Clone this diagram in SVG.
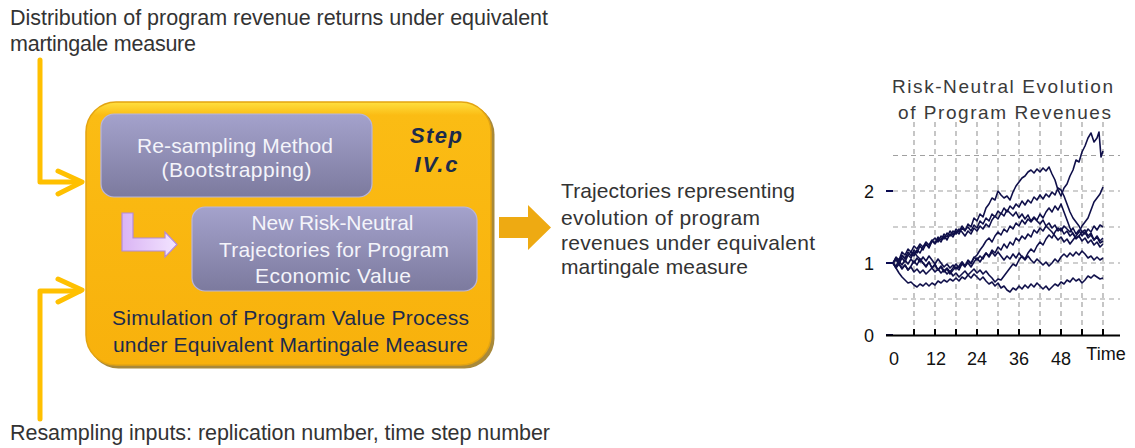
<svg xmlns="http://www.w3.org/2000/svg" width="1135" height="448" viewBox="0 0 1135 448">
  <defs>
    <linearGradient id="orangeGrad" x1="0" y1="0" x2="0" y2="1">
      <stop offset="0" stop-color="#FFE040"/>
      <stop offset="0.05" stop-color="#FBBC14"/>
      <stop offset="1" stop-color="#F8B10C"/>
    </linearGradient>
    <linearGradient id="innerGrad" x1="0" y1="0" x2="0" y2="1">
      <stop offset="0" stop-color="#A4A2CC"/>
      <stop offset="1" stop-color="#7C7A9E"/>
    </linearGradient>
    <linearGradient id="purpleGrad" x1="0" y1="0" x2="1" y2="0">
      <stop offset="0" stop-color="#DAB4F4"/>
      <stop offset="1" stop-color="#F2E4FF"/>
    </linearGradient>
    <linearGradient id="axisGrad" x1="0" y1="0" x2="0" y2="1">
      <stop offset="0" stop-color="#8A8AB8"/>
      <stop offset="0.1" stop-color="#0A0A50"/>
      <stop offset="1" stop-color="#0A0A50"/>
    </linearGradient>
  </defs>
  <style>
    .t { font-family: "Liberation Sans", Arial, sans-serif; font-size: 21.5px; fill: #333333; }
    .o { font-family: "Liberation Sans", Arial, sans-serif; font-size: 21px; fill: #333333; }
    .bw { font-family: "Liberation Sans", Arial, sans-serif; font-size: 21px; fill: #F4F4FA; text-anchor: middle; }
    .bn { font-family: "Liberation Sans", Arial, sans-serif; font-size: 21px; fill: #1C2B4C; text-anchor: middle; }
    .step { font-family: "Liberation Sans", Arial, sans-serif; font-size: 22px; font-weight: bold; font-style: italic; fill: #1C2B4C; text-anchor: middle; }
    .ct { font-family: "Liberation Sans", Arial, sans-serif; font-size: 19px; fill: #3A3A3A; }
    .cl { font-family: "Liberation Sans", Arial, sans-serif; font-size: 18px; fill: #111111; text-anchor: middle; }
    .yel { fill: none; stroke: #FFC000; stroke-width: 5; stroke-linecap: round; stroke-linejoin: round; }
    .inner { fill: url(#innerGrad); stroke: #B8B5DC; stroke-width: 1.2; }
    .grid { stroke: #A0A0A0; stroke-width: 1.2; stroke-dasharray: 5 4; fill: none; }
    .traj { fill: none; stroke: #10104A; stroke-width: 1.6; stroke-linejoin: round; }
  </style>

  <g id="input-distribution">
    <text class="t" x="10" y="25" textLength="538" lengthAdjust="spacing">Distribution of program revenue returns under equivalent</text>
    <text class="t" x="10" y="51" textLength="186" lengthAdjust="spacing">martingale measure</text>
  </g>

  <g id="input-resampling">
    <text class="t" x="10" y="440" textLength="540" lengthAdjust="spacing">Resampling inputs: replication number, time step number</text>
  </g>

  <g id="simulation-box">
    <rect x="88.5" y="104.5" width="406" height="264" rx="30" fill="#A8893A"/>
    <rect x="86" y="102" width="405" height="263" rx="30" fill="url(#orangeGrad)" stroke="#E3A412" stroke-width="1.5"/>
    <text class="step" x="436" y="143" textLength="52" lengthAdjust="spacing">Step</text>
    <text class="step" x="436" y="172" textLength="43" lengthAdjust="spacing">IV.c</text>
    <text class="bn" x="290.5" y="325" textLength="357" lengthAdjust="spacing">Simulation of Program Value Process</text>
    <text class="bn" x="290.5" y="352" textLength="355" lengthAdjust="spacing">under Equivalent Martingale Measure</text>
  </g>

  <g id="resampling-method">
    <rect class="inner" x="101" y="114" width="271" height="83" rx="13"/>
    <text class="bw" x="235" y="153" textLength="196" lengthAdjust="spacing">Re-sampling Method</text>
    <text class="bw" x="236.5" y="177" textLength="150" lengthAdjust="spacing">(Bootstrapping)</text>
  </g>

  <g id="new-trajectories">
    <rect class="inner" x="192" y="207" width="285" height="84" rx="13"/>
    <text class="bw" x="332.5" y="230" textLength="162" lengthAdjust="spacing">New Risk-Neutral</text>
    <text class="bw" x="334" y="257" textLength="230" lengthAdjust="spacing">Trajectories for Program</text>
    <text class="bw" x="333" y="283" textLength="156" lengthAdjust="spacing">Economic Value</text>
  </g>

  <g id="output-text">
    <text class="o" x="561" y="198" textLength="234" lengthAdjust="spacing">Trajectories representing</text>
    <text class="o" x="561" y="225" textLength="199" lengthAdjust="spacing">evolution of program</text>
    <text class="o" x="561" y="250" textLength="254" lengthAdjust="spacing">revenues under  equivalent</text>
    <text class="o" x="561" y="274" textLength="187" lengthAdjust="spacing">martingale measure</text>
  </g>

  <g id="chart">
    <text class="ct" x="892" y="93" textLength="221" lengthAdjust="spacing">Risk-Neutral Evolution</text>
    <text class="ct" x="898" y="119" textLength="213" lengthAdjust="spacing">of Program Revenues</text>
    <g class="grid">
      <path d="M893,155.5 H1120 M893,191 H1120 M893,227 H1120 M893,263 H1120 M893,299 H1120"/>
      <path d="M914,122 V335 M935,122 V335 M956,122 V335 M977,122 V335 M998,122 V335 M1019,122 V335 M1040,122 V335 M1061,122 V335 M1082,122 V335 M1103,122 V335"/>
    </g>
    <g class="traj">
      <polyline points="893,263 896,258 899,261 902,255 905,258 908,252 911,256 914,250 917,253 920,246 923,250 926,244 929,247 932,241 935,244 938,239 941,242 944,236 947,240 950,234 953,237 956,231 959,234 962,228 965,231 968,224 971,227 974,218 977,221 980,214 983,217 986,208 989,204 992,198 995,200 998,191 1001,195 1004,198 1007,196 1010,200 1013,192 1016,186 1019,182 1022,178 1025,176 1028,172 1031,170 1034,173 1037,169 1040,172 1043,168 1046,171 1049,167 1052,174 1055,180 1058,190 1061,196 1064,188 1067,184 1070,176 1073,170 1076,160 1079,162 1082,152 1085,146 1088,138 1091,133 1094,142 1097,138 1099,132 1101,157 1103,151"/>
      <polyline points="893,263 896,257 899,260 902,252 905,255 908,249 911,252 914,246 917,249 920,244 923,247 926,242 929,245 932,240 935,243 938,237 941,240 944,234 947,237 950,231 953,235 956,229 959,232 962,226 965,230 968,227 971,231 974,225 977,228 980,221 983,224 986,218 989,221 992,214 995,217 998,211 1001,214 1004,208 1007,212 1010,206 1013,209 1016,204 1019,207 1022,201 1025,205 1028,200 1031,203 1034,197 1037,200 1040,195 1043,199 1046,194 1049,197 1052,192 1055,195 1058,188 1061,190 1064,196 1067,204 1070,212 1073,218 1076,222 1079,226 1082,232 1085,230 1088,236 1091,233 1094,240 1097,237 1100,243 1103,241"/>
      <polyline points="893,263 896,268 899,264 902,269 905,265 908,270 911,266 914,261 917,265 920,259 923,263 926,267 929,262 932,268 935,264 938,270 941,266 944,271 947,268 950,272 953,268 956,264 959,268 962,262 965,266 968,260 971,263 974,257 977,260 980,256 983,259 986,253 989,256 992,250 995,253 998,247 1001,250 1004,244 1007,248 1010,242 1013,245 1016,238 1019,241 1022,236 1025,239 1028,234 1031,237 1034,230 1037,233 1040,228 1043,231 1046,226 1049,229 1052,232 1055,236 1058,240 1061,237 1064,242 1067,239 1070,244 1073,240 1076,236 1079,232 1082,226 1085,222 1088,218 1091,210 1094,202 1097,198 1100,194 1103,187"/>
      <polyline points="893,263 896,260 899,264 902,258 905,262 908,255 911,252 914,256 917,250 920,253 923,247 926,244 929,248 932,241 935,238 938,242 941,236 944,239 947,233 950,236 953,231 956,234 959,229 962,232 965,236 968,231 971,234 974,228 977,231 980,226 983,229 986,224 989,227 992,220 995,216 998,219 1001,213 1004,216 1007,210 1010,213 1013,216 1016,212 1019,218 1022,214 1025,219 1028,215 1031,221 1034,217 1037,220 1040,214 1043,218 1046,212 1049,208 1052,212 1055,206 1058,210 1061,204 1064,212 1067,220 1070,228 1073,234 1076,238 1079,236 1082,232 1085,234 1088,229 1091,232 1094,226 1097,230 1100,225 1103,227"/>
      <polyline points="893,263 896,259 899,262 902,256 905,259 908,255 911,258 914,252 917,256 920,259 923,263 926,266 929,262 932,268 935,265 938,270 941,267 944,272 947,269 950,274 953,270 956,267 959,270 962,264 965,267 968,261 971,264 974,258 977,255 980,250 983,246 986,241 989,238 992,242 995,236 998,232 1001,235 1004,229 1007,232 1010,226 1013,229 1016,223 1019,226 1022,220 1025,224 1028,219 1031,222 1034,218 1037,221 1040,224 1043,220 1046,226 1049,223 1052,228 1055,225 1058,231 1061,228 1064,234 1067,231 1070,236 1073,233 1076,239 1079,236 1082,241 1085,238 1088,243 1091,240 1094,245 1097,242 1100,247 1103,244"/>
      <polyline points="893,263 896,266 899,261 902,265 905,260 908,264 911,259 914,263 917,258 920,262 923,257 926,261 929,256 932,260 935,264 938,259 941,263 944,267 947,264 950,268 953,265 956,269 959,266 962,262 965,266 968,263 971,267 974,262 977,258 980,262 983,257 986,253 989,257 992,252 995,256 998,252 1001,256 1004,260 1007,256 1010,259 1013,254 1016,258 1019,253 1022,257 1025,260 1028,256 1031,260 1034,263 1037,259 1040,262 1043,265 1046,262 1049,266 1052,263 1055,259 1058,262 1061,257 1064,254 1067,257 1070,253 1073,256 1076,252 1079,255 1082,251 1085,254 1088,258 1091,256 1094,260 1097,257 1100,260 1103,258"/>
      <polyline points="893,263 896,267 899,264 902,268 905,265 908,270 911,267 914,272 917,269 920,273 923,270 926,274 929,271 932,268 935,272 938,269 941,273 944,270 947,274 950,271 953,276 956,273 959,277 962,274 965,271 968,275 971,272 974,269 977,273 980,270 983,274 986,271 989,275 992,278 995,282 998,279 1001,280 1004,276 1007,272 1010,268 1013,264 1016,266 1019,260 1022,256 1025,259 1028,253 1031,249 1034,252 1037,246 1040,242 1043,245 1046,239 1049,235 1052,238 1055,232 1058,228 1061,231 1064,226 1067,229 1070,232 1073,228 1076,234 1079,230 1082,236 1085,232 1088,238 1091,235 1094,240 1097,236 1100,241 1103,238"/>
      <polyline points="893,263 896,268 899,273 902,277 905,280 908,283 911,282 914,285 917,287 920,284 923,286 926,283 929,286 932,283 935,285 938,281 941,283 944,280 947,282 950,279 953,281 956,278 959,281 962,277 965,279 968,275 971,278 974,274 977,277 980,280 983,277 986,281 989,284 992,282 995,286 998,283 1001,288 1004,286 1007,290 1010,292 1013,288 1016,290 1019,286 1022,289 1025,285 1028,288 1031,284 1034,287 1037,283 1040,286 1043,289 1046,286 1049,290 1052,287 1055,284 1058,286 1061,282 1064,284 1067,280 1070,282 1073,278 1076,281 1079,279 1082,283 1085,280 1088,276 1091,278 1094,275 1097,277 1100,279 1103,278"/>
    </g>
    <line x1="893" y1="122" x2="893" y2="336" stroke="url(#axisGrad)" stroke-width="2"/>
    <path d="M886,191 H893 M886,263 H893 M886,335 H893" stroke="#0A0A50" stroke-width="2"/>
    <line x1="886" y1="335.5" x2="1120" y2="335.5" stroke="#000000" stroke-width="2"/>
    <path d="M914,335 V329 M935,335 V329 M956,335 V329 M977,335 V329 M998,335 V329 M1019,335 V329 M1040,335 V329 M1061,335 V329 M1082,335 V329 M1103,335 V329" stroke="#000000" stroke-width="2"/>
    <text class="cl" x="869" y="198">2</text>
    <text class="cl" x="869" y="270">1</text>
    <text class="cl" x="869" y="342">0</text>
    <text class="cl" x="894" y="365">0</text>
    <text class="cl" x="936" y="365">12</text>
    <text class="cl" x="977" y="365">24</text>
    <text class="cl" x="1019" y="365">36</text>
    <text class="cl" x="1061" y="365">48</text>
    <text class="cl" x="1106" y="360">Time</text>
  </g>

  <g id="connectors">
    <path class="yel" d="M40,60 V182 H80"/>
    <path class="yel" d="M58,171 L82,182 L58,194"/>
    <path class="yel" d="M40,419 V291 H80"/>
    <path class="yel" d="M58,279 L82,290 L58,302"/>
    <polygon points="122,213 133,213 133,238 165,238 165,232 177,244.5 165,257 165,251 122,251" fill="url(#purpleGrad)" stroke="#B48AD8" stroke-width="1.2"/>
    <polygon points="499,217 528,217 528,205 551,227.5 528,250 528,238 499,238" fill="#EEAA12"/>
  </g>
</svg>
